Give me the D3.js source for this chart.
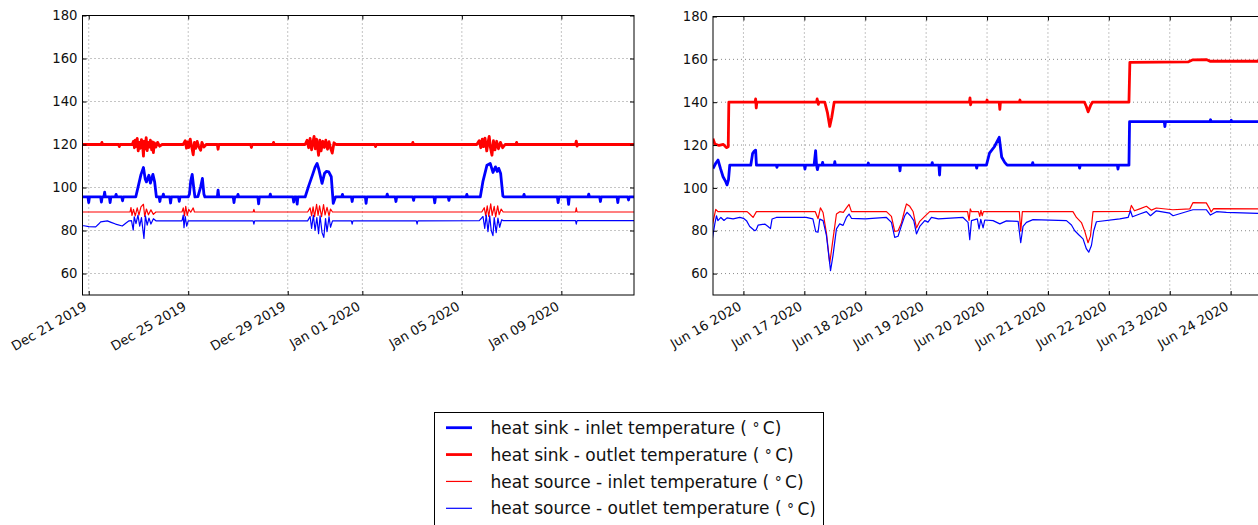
<!DOCTYPE html>
<html>
<head>
<meta charset="utf-8">
<script src="https://cdn.jsdelivr.net/npm/d3@7"></script>
<style>
  html, body { margin: 0; padding: 0; background: #fff; }
  svg { display: block; font-family: "DejaVu Sans", sans-serif; }
</style>
</head>
<body>
<svg id="chart" width="1258" height="525"></svg>
<script>
// ---------------------------------------------------------------
// Data: [days since the first labelled date, temperature in °C]
// ---------------------------------------------------------------
const temperatureTicks = [60, 80, 100, 120, 140, 160, 180];

// Winter period (first labelled day: 21 Dec 2019)
const winterBase = "2019-12-21";
const winterRange = [-0.25, 21.92];
const winterTicks = ["2019-12-21", "2019-12-25", "2019-12-29", "2020-01-01", "2020-01-05", "2020-01-09"];

const winterSinkInlet = [
  [-0.25,95.6],[-0.03,95.6],[0.0,93.0],[0.03,95.6],[0.48,95.6],[0.51,93.2],[0.54,95.6],[0.61,95.6],[0.64,97.8],
  [0.67,95.6],[0.83,95.6],[0.86,93.0],[0.89,95.6],[1.07,95.6],[1.1,96.8],[1.13,95.6],[1.33,95.6],[1.36,93.8],[1.39,95.6],
  [1.89,95.6],[2.0,101],[2.1,106],[2.2,109.3],[2.27,104],[2.32,102.6],[2.42,105.7],[2.48,102],[2.58,106.1],[2.65,102.6],
  [2.72,95.6],[2.83,95.6],[2.86,93.5],[2.89,95.6],[2.97,95.6],[3.0,96.9],[3.03,95.6],[3.26,95.6],[3.29,92.8],[3.32,95.6],
  [3.61,95.6],[3.64,93.6],[3.67,95.6],[4.0,95.6],
  [4.05,97],[4.1,103],[4.16,106.1],[4.22,100],[4.27,95.6],[4.39,95.8],[4.5,100.3],[4.57,104.2],[4.63,97],[4.67,95.6],
  [5.17,95.6],[5.2,98.8],[5.23,95.6],[5.81,95.6],[5.84,93.0],[5.87,95.6],[5.97,95.6],[6.0,96.8],[6.03,95.6],
  [6.8,95.6],[6.83,92.4],[6.86,95.6],[7.27,95.6],[7.3,96.9],[7.33,95.6],[8.21,95.6],[8.24,93.2],[8.27,95.6],
  [8.35,95.6],[8.38,92.3],[8.41,95.6],[8.7,95.6],
  [8.85,101],[9.0,106],[9.1,109.5],[9.18,111.2],[9.25,108.5],[9.38,101.9],[9.48,106.6],[9.56,107.5],
  [9.65,107.3],[9.75,105],[9.83,92.6],[9.92,95.6],
  [10.17,95.6],[10.2,96.8],[10.23,95.6],[10.56,95.6],[10.59,93.5],[10.62,95.6],[11.12,95.6],[11.15,92.6],[11.18,95.6],
  [11.97,95.6],[12.0,96.9],[12.03,95.6],[12.32,95.6],[12.35,93.5],[12.38,95.6],[13.03,95.6],[13.06,94.0],[13.09,95.6],
  [13.88,95.6],[13.91,92.9],[13.94,95.6],[14.45,95.6],[14.48,94.0],[14.51,95.6],[15.17,95.6],[15.2,96.8],[15.23,95.6],
  [15.74,95.6],[15.85,103],[16.01,110.4],[16.14,111.2],[16.25,107],[16.35,109.6],[16.42,107.5],[16.48,108.9],
  [16.56,106.5],[16.65,96],[16.7,95.6],
  [17.47,95.6],[17.5,96.8],[17.53,95.6],[18.84,95.6],[18.87,93.0],[18.9,95.6],[19.26,95.6],[19.29,92.2],[19.32,95.6],
  [20.07,95.6],[20.1,96.9],[20.13,95.6],[20.54,95.6],[20.57,93.5],[20.6,95.6],[21.24,95.6],[21.27,93.0],[21.3,95.6],
  [21.67,95.6],[21.7,94.2],[21.73,95.6],[21.95,95.6]
];

const winterSinkOutlet = [
  [-0.25,120],[0.5,120],[0.53,121],[0.56,120],[1.2,120],[1.23,119],[1.26,120],[1.75,120],
  [1.8,121.5],[1.84,118.5],[1.87,122],[1.9,119],[1.95,122.8],[1.99,117],[2.03,121],[2.07,118.2],[2.12,122.3],
  [2.17,119],[2.2,114.6],[2.23,121.5],[2.27,118],[2.31,123.2],[2.35,117.2],[2.39,121],[2.44,118.8],[2.48,122],
  [2.53,117.5],[2.57,121.2],[2.6,116.2],[2.64,120.8],[2.7,118.8],[2.77,121],[2.85,119.2],[2.95,120],
  [3.8,120],[3.88,121.8],[3.93,118.3],[3.97,121.2],[4.02,118.6],[4.08,122.5],[4.14,119],[4.2,115.2],[4.25,121],
  [4.3,118.2],[4.36,121.4],[4.42,119],[4.5,117.3],[4.55,121],[4.63,118.8],[4.72,120],
  [5.17,120],[5.2,117.8],[5.23,120],[6.51,120],[6.54,118.6],[6.57,120],[7.4,120],[7.43,121],[7.46,120],[8.7,120],
  [8.78,122],[8.84,118.5],[8.9,122.8],[8.96,117.5],[9.02,121.5],[9.06,123.8],[9.11,118],[9.16,122.5],[9.24,115],
  [9.29,122],[9.34,117],[9.41,121.5],[9.47,118.6],[9.53,122],[9.6,117.8],[9.66,121.3],[9.72,118.3],[9.79,116],
  [9.86,120.8],[9.94,120],
  [11.5,120],[11.53,119],[11.56,120],[13.0,120],[13.03,121],[13.06,120],[15.6,120],
  [15.7,121.8],[15.76,118.5],[15.82,122.5],[15.87,119],[15.93,123],[16.0,117],[16.06,121.5],[16.1,123.8],
  [16.15,118.5],[16.21,115],[16.27,121.8],[16.33,117.5],[16.4,121.5],[16.47,118],[16.55,121],[16.64,118.5],[16.74,120],
  [17.17,120],[17.2,121],[17.23,120],[19.57,120],[19.6,121.6],[19.63,119.3],[19.66,120],[21.95,120]
];

const winterSourceInlet = [
  [-0.25,88.6],[1.66,88.6],[1.7,90.7],[1.74,87],[1.8,89.8],[1.87,86.8],[1.95,90.5],[2.02,87.2],[2.1,91],
  [2.2,92.2],[2.25,86.5],[2.32,90],[2.4,87.3],[2.5,89.6],[2.6,87.5],[2.7,88.6],
  [3.75,88.6],[3.8,90.5],[3.85,86.8],[3.9,91.2],[3.96,87],[4.02,89.8],[4.1,88.5],[4.2,90.5],[4.25,88.6],
  [6.61,88.6],[6.64,89.8],[6.67,88.6],[8.8,88.6],
  [8.9,90.5],[8.96,86.8],[9.02,91],[9.08,86.4],[9.16,92.2],[9.22,87],[9.28,91.5],[9.36,86.4],[9.44,92],[9.5,87.2],
  [9.58,90.8],[9.66,86.8],[9.72,90],[9.8,88.6],
  [15.8,88.6],[15.9,90.6],[15.96,86.8],[16.02,91.5],[16.08,86.5],[16.16,92.4],[16.22,87],[16.3,91.2],[16.36,86.3],
  [16.44,91.5],[16.5,87.4],[16.58,90],[16.66,88.6],
  [19.57,88.6],[19.6,90.5],[19.63,88.6],[21.95,88.6]
];

const winterSourceOutlet = [
  [-0.25,82.2],[-0.19,82.2],[0.0,81.8],[0.28,81.7],[0.4,83.0],[0.48,84],[0.75,84.5],[0.9,83.8],[1.08,83],[1.35,82.1],
  [1.5,83.5],[1.62,84.5],[1.72,84.6],[1.79,80.2],[1.83,86.4],[1.9,83.2],[1.98,87.1],[2.05,82],[2.12,86],[2.22,76.3],
  [2.28,86.8],[2.35,82.5],[2.42,85.8],[2.5,83],[2.6,85.5],[2.7,84.5],
  [3.75,84.5],[3.8,87.2],[3.83,81.3],[3.88,86.5],[3.94,82],[4.0,84.5],
  [6.61,84.5],[6.64,83],[6.67,84.5],[8.8,84.5],
  [8.9,86.5],[8.96,81],[9.03,87.1],[9.1,80],[9.17,86],[9.24,78.5],[9.3,86.8],[9.38,79],[9.45,76.8],[9.52,85.5],
  [9.58,79.5],[9.66,86.4],[9.72,81.5],[9.8,84.5],
  [10.56,84.5],[10.59,83],[10.62,84.5],[13.17,84.5],[13.2,83],[13.23,84.5],[15.7,84.6],
  [15.85,86.5],[15.92,81],[15.98,87.2],[16.05,79.5],[16.12,86.8],[16.18,80],[16.25,77.6],[16.3,86],[16.38,79],
  [16.45,85.8],[16.52,81.5],[16.6,85],[16.66,84.6],
  [19.57,84.6],[19.6,83],[19.63,84.6],[21.95,84.6]
];

// Summer period (first labelled day: 16 Jun 2020)
const summerBase = "2020-06-16";
const summerRange = [-0.5, 9.0];
const summerTicks = ["2020-06-16", "2020-06-17", "2020-06-18", "2020-06-19", "2020-06-20",
                     "2020-06-21", "2020-06-22", "2020-06-23", "2020-06-24"];

const summerSinkInlet = [
  [-0.5,109],[-0.455,111.5],[-0.417,113],[-0.378,109.1],[-0.335,105.2],[-0.291,102.9],[-0.269,101.4],[-0.246,103.7],
  [-0.225,110.6],[0.12,110.6],[0.15,116],[0.17,116.9],[0.2,117.6],[0.213,110.6],[0.54,110.6],[0.55,109.6],[0.56,110.6],
  [1.0,110.6],[1.01,108.8],[1.02,110.6],[1.16,110.6],[1.185,117.4],[1.2,110.6],[1.215,108.5],[1.23,110.6],
  [1.29,110.6],[1.3,111.9],[1.31,110.6],[1.49,110.6],[1.5,112.2],[1.51,110.6],[2.04,110.6],[2.05,111.6],[2.06,110.6],
  [2.56,110.6],[2.57,108],[2.58,110.6],[3.09,110.6],[3.1,111.8],[3.11,110.6],[3.21,110.6],[3.22,106],[3.23,110.6],
  [3.82,110.6],[3.83,109.2],[3.84,110.6],[3.99,110.6],[4.04,116.2],[4.12,119.2],[4.2,123.6],[4.24,114.4],[4.29,111.9],
  [4.33,110.6],[4.74,110.6],[4.75,111.8],[4.76,110.6],[5.51,110.6],[5.52,109.2],[5.53,110.6],[6.14,110.6],[6.15,108.8],
  [6.16,110.6],[6.33,110.6],[6.34,130.9],[6.91,130.9],[6.92,128.6],[6.93,130.9],[7.66,130.9],[7.67,131.8],[7.68,130.9],
  [8.0,130.9],[8.01,131.6],[8.02,130.9],[9.0,130.9]
];

const summerSinkOutlet = [
  [-0.5,123],[-0.47,120.5],[-0.4,119.8],[-0.33,120.3],[-0.28,118.8],[-0.25,119.2],[-0.24,140],[0.19,140],
  [0.2,141.5],[0.21,137.3],[0.22,140],[1.2,140],[1.21,141.5],[1.23,139],[1.24,140],[1.335,140],[1.38,135],
  [1.417,128.7],[1.45,133],[1.49,140],[3.71,140],[3.72,142],[3.73,138.8],[3.74,140],[3.99,140],[4.0,141],[4.01,140],
  [4.2,140],[4.21,136.7],[4.22,140],[4.53,140],[4.54,141],[4.55,140],[5.6,140],[5.63,138],[5.66,135.5],[5.7,138.5],
  [5.73,140],[6.33,140],[6.345,158.6],[7.3,158.8],[7.38,159.8],[7.6,159.9],[7.66,159.1],[9.0,159.1]
];

const summerSourceInlet = [
  [-0.51,82.7],[-0.455,90],[-0.42,88.9],[0.06,88.9],[0.103,87.8],[0.158,86.2],[0.213,88.9],
  [1.18,88.9],[1.225,85.6],[1.264,90.7],[1.307,88.5],[1.363,78.8],[1.417,64.8],
  [1.461,74.1],[1.527,87.8],[1.581,88.9],[1.64,88.6],[1.691,90.7],[1.734,92.3],[1.773,88.9],[2.348,88.9],
  [2.43,86.7],[2.484,79.7],[2.539,80],[2.594,83.6],[2.649,89.8],[2.677,92.5],[2.731,91.4],[2.785,89],[2.841,81.3],
  [2.895,84.4],[2.977,86.7],[3.059,88.9],[3.68,88.9],[3.705,84.8],[3.725,90.2],[3.745,88.9],
  [3.86,88.9],[3.88,86.7],[3.9,89.5],[3.92,87],[3.94,88.9],[4.53,88.9],[4.553,79.8],[4.58,88.9],[5.41,88.9],
  [5.468,86.2],[5.55,83.8],[5.604,79.8],[5.658,74.4],[5.698,77.5],[5.74,88.9],[6.343,89],[6.37,91.8],
  [6.42,89.3],[6.507,90.2],[6.617,91.4],[6.7,89.6],[6.78,90.6],[7.05,89.8],[7.33,90.2],[7.38,93.1],[7.6,93],
  [7.657,90.2],[7.68,88.8],[7.72,90.3],[9.0,90.2]
];

const summerSourceOutlet = [
  [-0.51,76.2],[-0.471,83.1],[-0.443,87],[-0.42,84.7],[-0.37,86.2],[-0.32,84.8],[-0.27,86],[-0.17,85.5],[-0.06,86.2],
  [0.0,85.8],[0.05,84.7],[0.103,82],[0.186,80],[0.21,80.5],[0.24,82.6],[0.35,83.1],[0.404,82],[0.443,81],[0.47,85.5],
  [0.54,86.2],[1.03,86.2],[1.14,85.5],[1.187,79.6],[1.225,79.3],[1.253,85.4],[1.307,84.7],[1.363,77.7],[1.43,61.4],
  [1.47,68.4],[1.527,80.9],[1.58,83.2],[1.636,82.5],[1.69,86.2],[1.734,87.8],[1.773,85.8],[2.0,85.5],[2.348,86.2],
  [2.43,83.9],[2.484,76.9],[2.539,77.4],[2.594,82.4],[2.649,87],[2.687,88.6],[2.742,87],[2.797,84.7],[2.841,78.5],
  [2.895,82],[2.977,84.7],[3.03,84],[3.087,86.2],[3.2,85.5],[3.606,86.2],[3.688,83.9],[3.716,75.8],[3.744,84.7],
  [3.84,85.5],[3.869,80.9],[3.897,85.3],[3.935,81.3],[3.962,85],[4.099,84.7],[4.21,83.2],[4.318,84.6],[4.51,84.4],
  [4.553,74.4],[4.591,82],[4.647,83.9],[4.755,85.2],[5.304,84.7],[5.386,82.7],[5.44,80],[5.51,78],[5.576,76.2],
  [5.632,71.5],[5.67,70],[5.714,73.1],[5.752,80],[5.796,84.2],[6.179,85.5],[6.316,86.2],[6.355,89.3],[6.388,86.5],
  [6.507,87.8],[6.617,88.9],[6.683,87],[6.78,89.3],[7.0,88.2],[7.054,87],[7.38,89.8],[7.6,89.8],[7.668,87.3],
  [7.767,88.9],[7.93,88.6],[8.445,88.1],[9.0,88.1]
];

const legendLabels = [
  "heat sink - inlet temperature",
  "heat sink - outlet temperature",
  "heat source - inlet temperature",
  "heat source - outlet temperature"
];

// ---------------------------------------------------------------
// Drawing
// ---------------------------------------------------------------
const lineStyles = [
  { color: "#0000ff", width: 2.8 },
  { color: "#ff0000", width: 2.8 },
  { color: "#ff0000", width: 1.2 },
  { color: "#0000ff", width: 1.2 }
];

const svg = d3.select("#chart");
const parseDay = d3.timeParse("%Y-%m-%d");
const DAY = 864e5;
const formatTick = d3.timeFormat("%b %d %Y");
const tickFont = "13.2px";

function drawPanel(id, frame, baseStr, range, tickStrs, seriesList) {
  const base = parseDay(baseStr);
  const toDate = d => new Date(base.getTime() + d * DAY);

  const x = d3.scaleTime()
    .domain([toDate(range[0]), toDate(range[1])])
    .range([frame.left, frame.right]);
  const y = d3.scaleLinear().domain([50, 180]).range([frame.bottom, frame.top]);
  const tickDates = tickStrs.map(parseDay);
  const w = frame.right - frame.left, h = frame.bottom - frame.top;

  const g = svg.append("g").attr("class", "panel-" + id);

  g.append("clipPath").attr("id", "clip-" + id)
    .append("rect").attr("x", frame.left).attr("y", frame.top).attr("width", w).attr("height", h);

  // dotted grid
  const grid = g.append("g").attr("class", "grid")
    .attr("stroke", "#8a8a8a").attr("stroke-width", 1).attr("stroke-dasharray", "1,3");
  grid.selectAll("line.gx").data(tickDates).join("line").attr("class", "gx")
    .attr("x1", d => x(d)).attr("x2", d => x(d)).attr("y1", frame.top).attr("y2", frame.bottom);
  grid.selectAll("line.gy").data(temperatureTicks).join("line").attr("class", "gy")
    .attr("y1", d => y(d)).attr("y2", d => y(d)).attr("x1", frame.left).attr("x2", frame.right);

  // series
  const line = d3.line()
    .x(p => x(toDate(p[0])))
    .y(p => y(p[1]));
  const plot = g.append("g").attr("clip-path", `url(#clip-${id})`);
  seriesList.forEach((s, i) => {
    plot.append("path")
      .datum(s)
      .attr("fill", "none")
      .attr("stroke", lineStyles[i].color)
      .attr("stroke-width", lineStyles[i].width)
      .attr("stroke-linejoin", "round")
      .attr("d", line);
  });

  // axes with inward ticks on all four sides
  const tickLen = 4;
  const yAxis = g.append("g").attr("transform", `translate(${frame.left},0)`)
    .call(d3.axisLeft(y).tickValues(temperatureTicks).tickSizeInner(-tickLen).tickSizeOuter(0).tickPadding(5));
  const yAxisR = g.append("g").attr("transform", `translate(${frame.right},0)`)
    .call(d3.axisRight(y).tickValues(temperatureTicks).tickSizeInner(-tickLen).tickSizeOuter(0).tickFormat(""));
  const xAxisT = g.append("g").attr("transform", `translate(0,${frame.top})`)
    .call(d3.axisTop(x).tickValues(tickDates).tickSizeInner(-tickLen).tickSizeOuter(0).tickFormat(""));
  const xAxis = g.append("g").attr("transform", `translate(0,${frame.bottom})`)
    .call(d3.axisBottom(x).tickValues(tickDates).tickSizeInner(-tickLen).tickSizeOuter(0).tickFormat(formatTick));

  [yAxis, yAxisR, xAxisT, xAxis].forEach(a => {
    a.select(".domain").remove();
    a.selectAll(".tick line").attr("stroke", "#000").attr("stroke-width", 1);
    a.selectAll("text").attr("fill", "#111").attr("font-size", tickFont)
      .attr("font-family", "DejaVu Sans, sans-serif");
  });

  xAxis.selectAll("text")
    .attr("x", 0).attr("y", 0).attr("dy", 0)
    .attr("text-anchor", "end")
    .attr("transform", "translate(-1.5,14) rotate(-30)");

  // frame
  g.append("rect")
    .attr("x", frame.left).attr("y", frame.top).attr("width", w).attr("height", h)
    .attr("fill", "none").attr("stroke", "#000").attr("stroke-width", 1);
}

drawPanel("winter", { left: 82.5, right: 634, top: 15.5, bottom: 295 },
  winterBase, winterRange, winterTicks,
  [winterSinkInlet, winterSinkOutlet, winterSourceInlet, winterSourceOutlet]);

drawPanel("summer", { left: 713, right: 713 + 9.5 * 60.9, top: 16.5, bottom: 295 },
  summerBase, summerRange, summerTicks,
  [summerSinkInlet, summerSinkOutlet, summerSourceInlet, summerSourceOutlet]);

// legend
const legend = svg.append("g").attr("class", "legend");
legend.append("rect")
  .attr("x", 434.5).attr("y", 412.5).attr("width", 389).attr("height", 140)
  .attr("fill", "#fff").attr("stroke", "#000").attr("stroke-width", 1);

const rowY = d3.scaleLinear().domain([0, 3]).range([427.7, 508.3]);
legendLabels.forEach((label, i) => {
  const cy = rowY(i);
  legend.append("line")
    .attr("x1", 446).attr("x2", 472).attr("y1", cy).attr("y2", cy)
    .attr("stroke", lineStyles[i].color).attr("stroke-width", lineStyles[i].width);
  const t = legend.append("text")
    .attr("x", 490.5).attr("y", cy).attr("dy", "0.36em")
    .attr("font-size", "17px").attr("fill", "#111");
  t.append("tspan").text(label + " ( ");
  t.append("tspan").text("°").attr("font-size", "14px").attr("dy", "-0.05em");
  t.append("tspan").text("\u2009C)").attr("dy", "0.05em").attr("font-size", "17px");
});
</script>
</body>
</html>
